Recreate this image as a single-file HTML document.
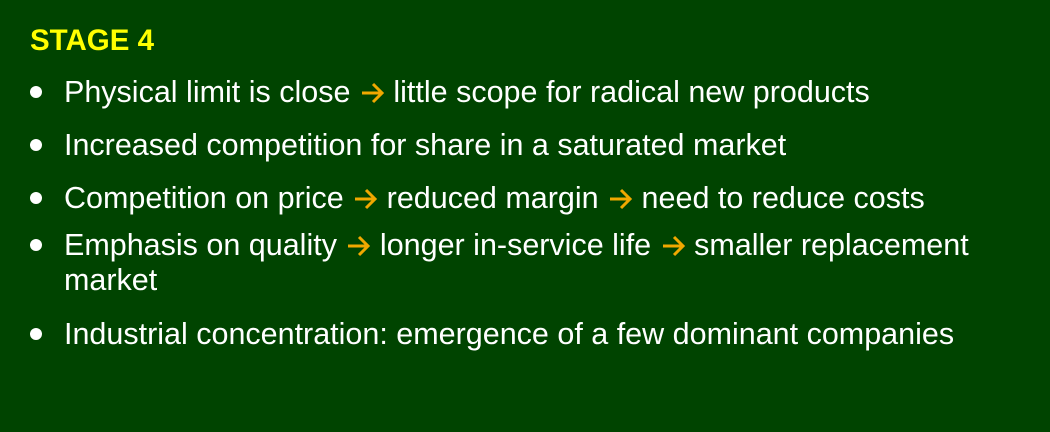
<!DOCTYPE html>
<html><head><style>
body{margin:0;width:1050px;height:432px;background:#004400;overflow:hidden;font-family:"Liberation Sans",Arial,sans-serif;color:#fff}
.t{position:absolute;left:30px;top:24px;font-size:29.5px;font-weight:bold;color:#ffff00}
.l{position:absolute;left:64px;font-size:30.5px;line-height:35px;white-space:nowrap}
.b{position:absolute;left:30px;width:12px;height:12px;border-radius:50%;background:#fff}
.a{display:inline-block;width:26px;height:22px;vertical-align:-2px}
</style></head><body>
<svg width="0" height="0" style="position:absolute"><defs><g id="ar"><path d="M3 11H23M14 2L23 11L14 20" fill="none" stroke="#f0a800" stroke-width="3"/></g></defs></svg>
<div class="t">STAGE 4</div>
<div class="b" style="top:86px"></div>
<div class="l" style="top:75px">Physical limit is close <svg class="a" viewBox="0 0 26 22"><use href="#ar"/></svg> little scope for radical new products</div>
<div class="b" style="top:139px"></div>
<div class="l" style="top:128px">Increased competition for share in a saturated market</div>
<div class="b" style="top:192px"></div>
<div class="l" style="top:181px">Competition on price <svg class="a" viewBox="0 0 26 22"><use href="#ar"/></svg> reduced margin <svg class="a" viewBox="0 0 26 22"><use href="#ar"/></svg> need to reduce costs</div>
<div class="b" style="top:239px"></div>
<div class="l" style="top:228px">Emphasis on quality <svg class="a" viewBox="0 0 26 22"><use href="#ar"/></svg> longer in-service life <svg class="a" viewBox="0 0 26 22"><use href="#ar"/></svg> smaller replacement<br>market</div>
<div class="b" style="top:328px"></div>
<div class="l" style="top:317px">Industrial concentration: emergence of a few dominant companies</div>
</body></html>
